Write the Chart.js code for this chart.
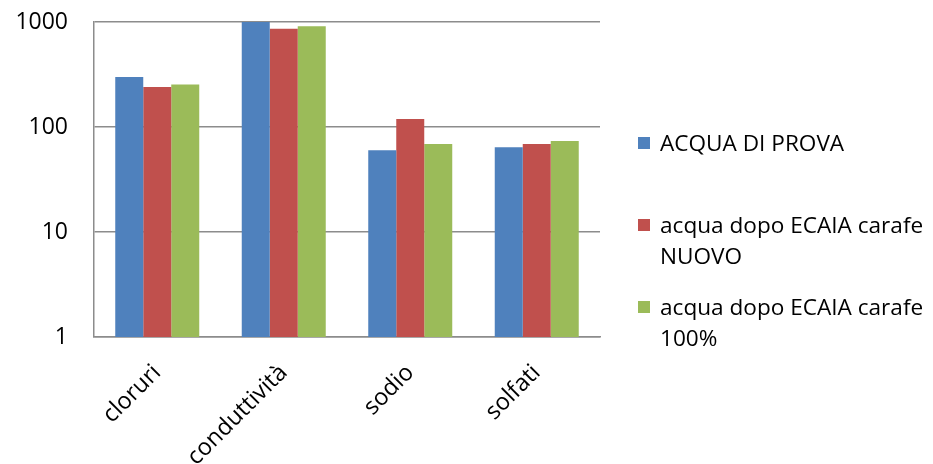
<!DOCTYPE html>
<html>
<head>
<meta charset="utf-8">
<script src="https://cdn.jsdelivr.net/npm/chart.js@4"></script>
<style>
  body { margin: 0; background: #fff; }
  #wrap { position: relative; width: 933px; height: 464px; }
  .leg { position: absolute; left: 638px; font-family: "Open Sans", sans-serif; font-size: 22.6px; line-height: 31px; color: #000; }
  .leg span.sw { position: absolute; left: 0; top: 10px; width: 12px; height: 12px; }
  .leg div.tx { margin-left: 22px; white-space: nowrap; }
</style>
</head>
<body>
<div id="wrap">
  <canvas id="chart" width="933" height="464"></canvas>
  <div id="legend"></div>
</div>
<script>
const categories = ['cloruri', 'conduttività', 'sodio', 'solfati'];
const seriesNames = [
  ['ACQUA DI PROVA'],
  ['acqua dopo ECAIA carafe', 'NUOVO'],
  ['acqua dopo ECAIA carafe', '100%']
];
const acquaDiProva = [300, 1000, 60, 64];
const dopoNuovo = [241, 863, 119, 69];
const dopo100 = [254, 910, 69, 73.5];
const tickValues = [1, 10, 100, 1000];
const colors = ['#4F81BD', '#C0504D', '#9BBB59'];

const allSeries = [acquaDiProva, dopoNuovo, dopo100];

const ctx = document.getElementById('chart').getContext('2d');
new Chart(ctx, {
  type: 'bar',
  data: {
    labels: categories,
    datasets: allSeries.map((vals, i) => ({
      label: seriesNames[i].join(' '),
      data: vals,
      backgroundColor: colors[i],
      borderWidth: 0,
      categoryPercentage: 0.664,
      barPercentage: 1
    }))
  },
  options: {
    responsive: false,
    animation: false,
    layout: { padding: { left: 0, right: 333, top: 22, bottom: 0 } },
    plugins: { legend: { display: false }, tooltip: { enabled: false } },
    scales: {
      x: {
        grid: { display: false, drawTicks: false },
        border: { color: '#8c8c8c', width: 1.5 },
        ticks: {
          color: '#000',
          font: { family: 'Open Sans', size: 23.5 },
          minRotation: 45,
          maxRotation: 45,
          padding: 22
        },
        afterFit: function (scale) { scale.height = 127; }
      },
      y: {
        type: 'logarithmic',
        min: 1,
        max: 1000,
        afterBuildTicks: function (scale) {
          scale.ticks = tickValues.map(v => ({ value: v }));
        },
        grid: { color: '#8c8c8c', lineWidth: 1.5, drawTicks: false },
        border: { color: '#8c8c8c', width: 1.5 },
        ticks: {
          color: '#000',
          font: { family: 'Open Sans', size: 23 },
          padding: 26,
          callback: function (v) { return String(v); }
        },
        afterFit: function (scale) {
          scale.width = 94;
          // the tick padding should not push the plot area down
          scale.paddingTop = 0;
          scale.paddingBottom = 0;
        }
      }
    }
  }
});

// legend drawn as html next to the chart
const legendTops = [127, 209, 291];
const legend = document.getElementById('legend');
seriesNames.forEach((lines, i) => {
  const item = document.createElement('div');
  item.className = 'leg';
  item.style.top = legendTops[i] + 'px';
  item.innerHTML = '<span class="sw" style="background:' + colors[i] + '"></span>' +
    '<div class="tx">' + lines.join('<br>') + '</div>';
  legend.appendChild(item);
});
</script>
</body>
</html>
